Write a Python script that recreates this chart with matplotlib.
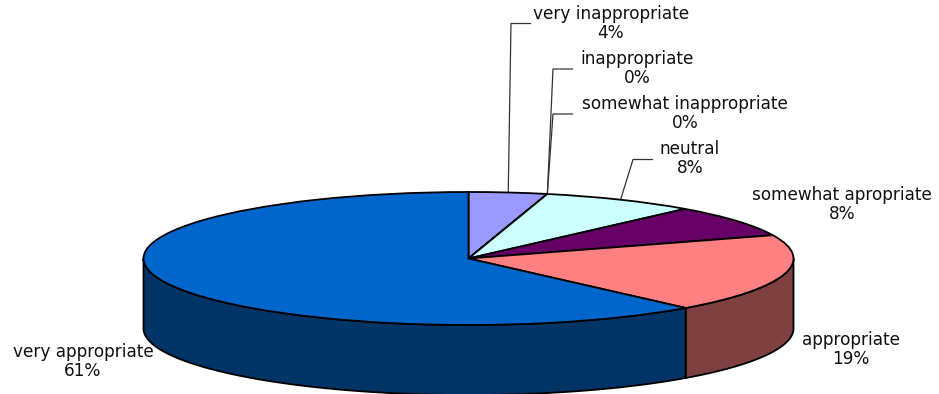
import numpy as np
import matplotlib
matplotlib.use('Agg')
import matplotlib.pyplot as plt
from matplotlib.transforms import Affine2D

# the original text is stretched wide, DejaVu gets the width without being too tall
plt.rcParams['font.family'] = ['DejaVu Sans']

# Categories, clockwise from 12 o'clock
categories = ['very inappropriate', 'inappropriate', 'somewhat inappropriate', 'neutral',
              'somewhat apropriate', 'appropriate', 'very appropriate']
pct_labels = ['4%', '0%', '0%', '8%', '8%', '19%', '61%']
# slice sizes
shares = [3.9, 0, 0, 7.7, 7.7, 19.05, 61.65]

top_colors = ['#9999FF', '#993366', '#FFFFCC', '#CCFFFF', '#660066', '#FF8080', '#0066CC']
side_colors = ['#4D4D80', '#4D1A33', '#808066', '#668080', '#330033', '#804040', '#003366']

# pixel layout of the disc
cx, cy, rx, ry, depth = 468.5, 258.5, 325, 66.5, 70

# label centre (x, y of first line), and which ones get a leader elbow
label_pos = [(611, 14), (637, 59), (685, 104), (690, 149), (842, 195), (851, 340), (83, 352)]
elbows = {0: (530.5, 511, 23.5), 1: (572.5, 553, 69), 2: (572.5, 553, 114), 3: (652.5, 633, 159.5)}

fig = plt.figure(figsize=(9.39, 3.94), dpi=100)
ax = fig.add_axes([0, 0, 1, 1])

# top of the disc
wedges, _ = ax.pie(shares, colors=top_colors, startangle=90, counterclock=False,
                   wedgeprops={'edgecolor': 'black', 'linewidth': 1.3})
top_tf = Affine2D().scale(rx, -ry).translate(cx, cy) + ax.transData
for w in wedges:
    w.set_transform(top_tf)
    w.set_zorder(3)

ax.set_aspect('auto')
ax.set_xlim(0, 939)
ax.set_ylim(394, 0)
ax.axis('off')

# side wall, only the front half (90 to 270 deg clockwise from top) is seen
edges = np.cumsum([0] + shares) * 3.6
for i in range(len(shares)):
    a0 = max(edges[i], 90)
    a1 = min(edges[i + 1], 270)
    if a1 <= a0:
        continue
    t = np.radians(np.linspace(a0, a1, 120))
    x = cx + rx * np.sin(t)
    y = cy - ry * np.cos(t)
    ax.fill(np.r_[x, x[::-1]], np.r_[y, y[::-1] + depth], facecolor=side_colors[i],
            edgecolor='black', linewidth=1.3, zorder=2)

# leader lines run from the rim at the middle of each slice
mids = np.radians((edges[:-1] + edges[1:]) / 2)
for i, (x0, x1, y0) in elbows.items():
    ax.plot([x0, x1, cx + rx * np.sin(mids[i])], [y0, y0, cy - ry * np.cos(mids[i])],
            color='#333333', linewidth=0.9, zorder=1)

for name, pct, (x, y) in zip(categories, pct_labels, label_pos):
    ax.text(x, y, name, ha='center', va='center', fontsize=12.15, color='#111111')
    ax.text(x, y + 19, pct, ha='center', va='center', fontsize=12.15, color='#111111')

fig.savefig('out.png', dpi=100)
